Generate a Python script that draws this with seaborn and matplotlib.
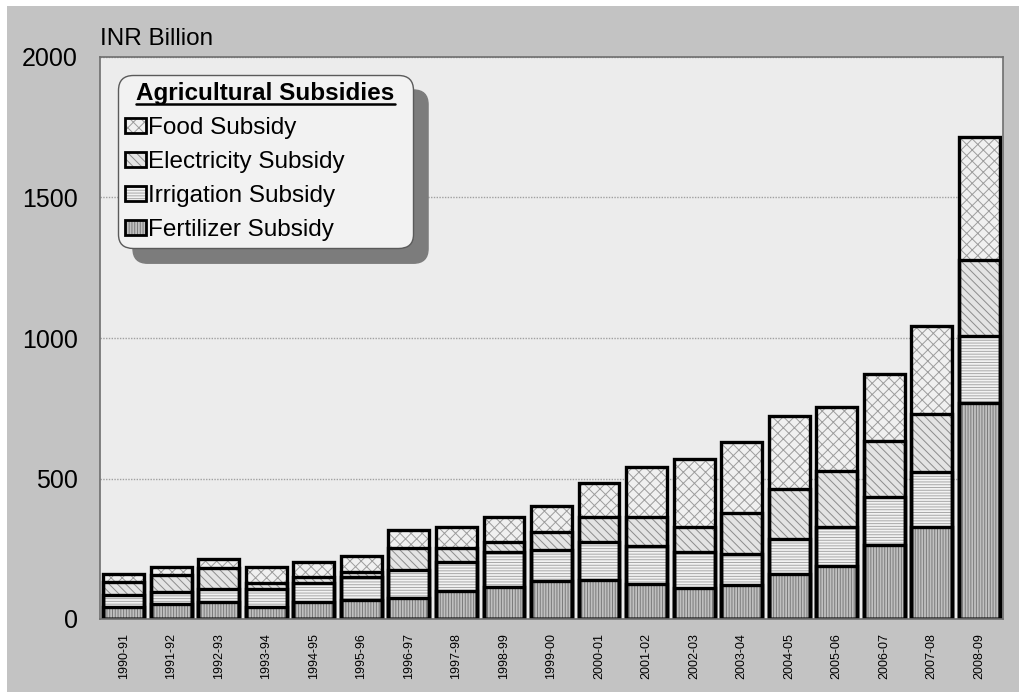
"""
Agricultural subsidies in India, stacked bars
"""

import numpy as np
import pandas as pd
import matplotlib
matplotlib.use('Agg')
import matplotlib.pyplot as plt
import seaborn as sns
from matplotlib.patches import Patch, Rectangle
from matplotlib.lines import Line2D
from matplotlib.legend_handler import HandlerTuple
from matplotlib.offsetbox import HPacker, DrawingArea

# Data (INR billion)
years = ['1990-91', '1991-92', '1992-93', '1993-94', '1994-95', '1995-96',
         '1996-97', '1997-98', '1998-99', '1999-00', '2000-01', '2001-02',
         '2002-03', '2003-04', '2004-05', '2005-06', '2006-07', '2007-08',
         '2008-09']
fertilizer = [44, 53, 62, 44, 59, 69, 76, 100, 115, 135, 140, 126, 110, 120,
              161, 187, 265, 329, 769]
irrigation = [41, 42, 45, 63, 69, 82, 97, 104, 122, 112, 134, 133, 129, 111,
              125, 142, 170, 194, 237]
electricity = [45, 60, 74, 20, 20, 16, 81, 50, 37, 61, 88, 103, 88, 145,
               178, 197, 198, 207, 273]
food = [30, 31, 31, 59, 55, 58, 62, 74, 89, 95, 121, 178, 243, 253, 258,
        230, 240, 311, 438]

layers = ['Fertilizer Subsidy', 'Irrigation Subsidy', 'Electricity Subsidy', 'Food Subsidy']
# fill colour, hatch colour, hatch pattern
styles = {
    'Fertilizer Subsidy': ('#c0c0c0', '#7a7a7a', '||||||'),
    'Irrigation Subsidy': ('#f2f2f2', '#a8a8a8', '------'),
    'Electricity Subsidy': ('#e4e4e4', '#8c8c8c', '\\\\\\\\'),
    'Food Subsidy': ('#f0f0f0', '#9c9c9c', 'xxx'),
}

df = pd.DataFrame({'year': years,
                   'Fertilizer Subsidy': fertilizer,
                   'Irrigation Subsidy': irrigation,
                   'Electricity Subsidy': electricity,
                   'Food Subsidy': food})
tops = df[layers].cumsum(axis=1)
tops['year'] = df['year']

sns.set_style('white')
plt.rcParams['font.family'] = ['Liberation Sans', 'DejaVu Sans']
plt.rcParams['text.color'] = 'black'
plt.rcParams['xtick.color'] = 'black'
plt.rcParams['ytick.color'] = 'black'
plt.rcParams['hatch.linewidth'] = 0.7

W, H = 1020, 692
fig = plt.figure(figsize=(W / 100, H / 100), dpi=100, facecolor='white')
fig.patches.append(Rectangle((7 / W, 0), 1, 1 - 6 / H, transform=fig.transFigure,
                             facecolor='#c3c3c3', edgecolor='none', zorder=-10))
ax = fig.add_axes([100 / W, 1 - 619 / H, 903 / W, 562 / H])
ax.set_facecolor('#ececec')

# stacked bars: draw cumulative totals from the top layer down
for name in layers[::-1]:
    fc, hc, hatch = styles[name]
    sns.barplot(data=tops, x='year', y=name, order=years, color=fc, edgecolor=hc,
                hatch=hatch, linewidth=0, width=0.86, errorbar=None, ax=ax,
                saturation=1)
for name in layers[::-1]:
    sns.barplot(data=tops, x='year', y=name, order=years, color='black', fill=False,
                linewidth=2.4, width=0.86, errorbar=None, ax=ax)

ax.set_xlabel('')
ax.set_ylabel('')
ax.set_ylim(0, 2000)
ax.set_xlim(-0.5, len(years) - 0.5)
ax.set_yticks([0, 500, 1000, 1500, 2000])
ax.tick_params(axis='y', length=0, pad=16, labelsize=18, labelcolor='black')
ax.tick_params(axis='x', length=0, pad=10, labelsize=9, rotation=90, labelcolor='black')
ax.yaxis.grid(True, color='#a0a0a0', linestyle=(0, (1, 1)), linewidth=1)
ax.xaxis.grid(False)
ax.set_axisbelow(True)
for sp in ax.spines.values():
    sp.set_visible(True)
    sp.set_color('#6e6e6e')
    sp.set_linewidth(1.2)

fig.text(100 / W, 1 - 45 / H, 'INR Billion', fontsize=17.5, ha='left', va='baseline',
         color='black')

# legend
handles = []
labels = layers[::-1]
for name in labels:
    fc, hc, hatch = styles[name]
    handles.append((Patch(facecolor=fc, edgecolor=hc, hatch=hatch, linewidth=0),
                    Patch(facecolor='none', edgecolor='black', linewidth=2.0)))
leg = ax.legend(handles, labels, title='Agricultural Subsidies', loc='upper left',
                bbox_to_anchor=(118 / W, 1 - 75 / H), bbox_transform=fig.transFigure,
                borderaxespad=0, fontsize=17.5,
                title_fontproperties={'weight': 'bold', 'size': 17.5},
                handler_map={tuple: HandlerTuple(ndivide=1, pad=0)},
                handlelength=0.85, handleheight=0.6, handletextpad=0.1,
                labelspacing=0.49, borderpad=0.3, alignment='left',
                frameon=True, fancybox=True, framealpha=1,
                facecolor='#f2f2f2', edgecolor='#5a5a5a', labelcolor='black',
                shadow={'color': '#7c7c7c', 'alpha': 1, 'ox': 10.8, 'oy': -10.8})
leg.legendPatch.set_boxstyle('round,pad=0,rounding_size=0.6')
leg.get_frame().set_linewidth(1.0)
leg.get_title().set_color('black')
title_row = HPacker(pad=0, sep=0, children=[DrawingArea(8, 1), leg._legend_title_box,
                                            DrawingArea(8, 1)])
leg._legend_box._children[0] = title_row

fig.canvas.draw()
renderer = fig.canvas.get_renderer()
tb = leg.get_title().get_window_extent(renderer)
uy = (tb.y0 + 1) / H
fig.add_artist(Line2D([tb.x0 / W, tb.x1 / W], [uy, uy], color='black', linewidth=1.8,
                      transform=fig.transFigure))

fig.savefig('out.png', dpi=100, facecolor=fig.get_facecolor())
